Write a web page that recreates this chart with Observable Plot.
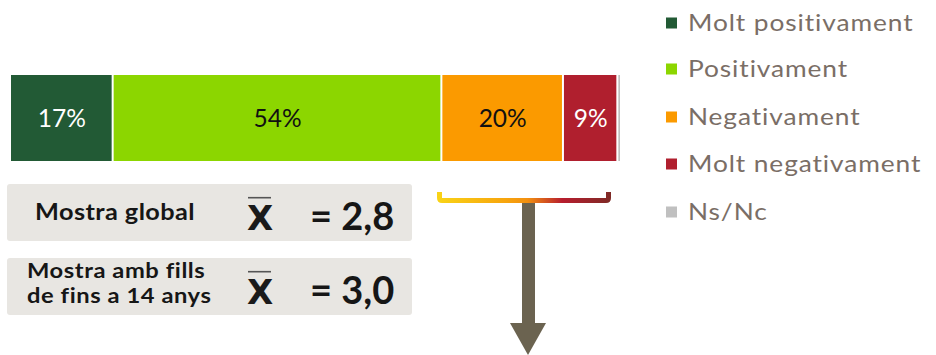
<!DOCTYPE html>
<html>
<head>
<meta charset="utf-8">
<script src="https://cdn.jsdelivr.net/npm/d3@7"></script>
<script src="https://cdn.jsdelivr.net/npm/@observablehq/plot@0.6"></script>
<style>
  html, body { margin: 0; padding: 0; background: #fff; }
  #chart { width: 936px; height: 355px; position: relative; overflow: hidden; }
</style>
</head>
<body>
<div id="chart"></div>
<script>
// ---- data ----
const categories = ["Molt positivament", "Positivament", "Negativament", "Molt negativament", "Ns/Nc"];
const values = [16.8, 53.8, 19.9, 8.9, 0.6];
const labels = ["17%", "54%", "20%", "9%", ""];
const colors = ["#225a35", "#8cd600", "#fb9a00", "#b01f2e", "#c0c0c0"];
const labelColors = ["#ffffff", "#111111", "#111111", "#ffffff", "#111111"];
const sampleLabels = [["Mostra global"], ["Mostra amb fills", "de fins a 14 anys"]];
const sampleMeans = ["= 2,8", "= 3,0"];

// derived table
const ends = d3.cumsum(values);
const rows = categories.map((c, i) => ({
  cat: c, value: values[i], x1: ends[i] - values[i], x2: ends[i],
  mid: ends[i] - values[i] / 2, label: labels[i], fill: colors[i], lc: labelColors[i], g: "all"
}));

const W = 936, H = 355;
const plot = Plot.plot({
  width: W, height: H,
  marginLeft: 10, marginRight: 315, marginTop: 75, marginBottom: 194,
  x: { domain: [0, d3.sum(values)], axis: null },
  y: { domain: ["all"], axis: null, padding: 0 },
  style: { background: "transparent" },
  marks: [
    Plot.barX(rows, { x1: "x1", x2: "x2", y: "g", fill: "fill", insetLeft: 1, insetRight: 1 }),
    Plot.text(rows, { x: "mid", y: "g", text: "label", fill: "lc", fontSize: 24.5, fontFamily: "Lato", dy: 1 })
  ]
});
document.getElementById("chart").appendChild(plot);

const svg = d3.select(plot);
const font = "Lato, 'DejaVu Sans', sans-serif";

function stretchedText(g, x, y, txt, size, weight, sx, ls, fill) {
  return g.append("text")
    .attr("transform", `translate(${x},${y}) scale(${sx},1)`)
    .attr("x", 0).attr("y", 0).attr("text-anchor", "start")
    .attr("font-family", font).attr("font-weight", weight).attr("font-size", size)
    .attr("letter-spacing", ls).attr("fill", fill).text(txt);
}

// ---- legend ----
const leg = svg.append("g").attr("text-anchor", "start");
const legBase = [31, 77, 125, 172, 220];
categories.forEach((c, i) => {
  leg.append("rect").attr("x", 666).attr("y", legBase[i] - 13.5).attr("width", 11).attr("height", 11).attr("fill", colors[i]);
  stretchedText(leg, 688, legBase[i], c, 23.5, 400, 1.12, 0.8, "#7a6e66");
});

// ---- sample boxes ----
const boxY = [184, 258];
const boxes = svg.append("g").attr("text-anchor", "start");
sampleLabels.forEach((lines, i) => {
  const y0 = boxY[i];
  boxes.append("rect").attr("x", 7).attr("y", y0).attr("width", 405).attr("height", 57).attr("rx", 3)
    .attr("fill", "#e8e6e2");
  if (lines.length === 1) {
    stretchedText(boxes, 35, y0 + 36, lines[0], 23, 700, 1.1, 0.4, "#161616");
  } else {
    lines.forEach((l, j) => {
      stretchedText(boxes, 27, y0 + 20 + j * 25, l, 21, 700, 1.13, 0.5, "#161616");
    });
  }
  // X-bar
  boxes.append("text").attr("x", 260).attr("y", y0 + 46).attr("text-anchor", "middle").attr("font-family", "'DejaVu Sans', sans-serif")
    .attr("font-weight", 700).attr("font-size", 34).attr("fill", "#1a1a1a").text("X");
  boxes.append("line").attr("x1", 248).attr("x2", 271).attr("y1", y0 + 13.7).attr("y2", y0 + 13.7)
    .attr("stroke", "#555").attr("stroke-width", 1.6);
  boxes.append("text").attr("x", 310).attr("y", y0 + 46).attr("text-anchor", "start").attr("font-family", font).attr("font-weight", 700)
    .attr("font-size", 38).attr("fill", "#161616").text(sampleMeans[i]);
});

// ---- bracket and arrow ----
const defs = svg.append("defs");
const grad = defs.append("linearGradient").attr("id", "brk").attr("gradientUnits", "userSpaceOnUse")
  .attr("x1", 437).attr("x2", 611).attr("y1", 0).attr("y2", 0);
[[0, "#f9d417"], [0.4, "#f7a40d"], [0.52, "#f39010"], [0.72, "#b71d2e"], [1, "#7e2a26"]].forEach(([o, c]) =>
  grad.append("stop").attr("offset", o).attr("stop-color", c));
svg.append("path")
  .attr("d", "M439.5,192 V198 Q439.5,200.5 442,200.5 H606 Q608.5,200.5 608.5,198 V192")
  .attr("fill", "none").attr("stroke", "url(#brk)").attr("stroke-width", 5);
svg.append("rect").attr("x", 522).attr("y", 203).attr("width", 13).attr("height", 121).attr("fill", "#6b6350");
svg.append("path").attr("d", "M510,323 H546 L528,355 Z").attr("fill", "#6b6350");
</script>
</body>
</html>
